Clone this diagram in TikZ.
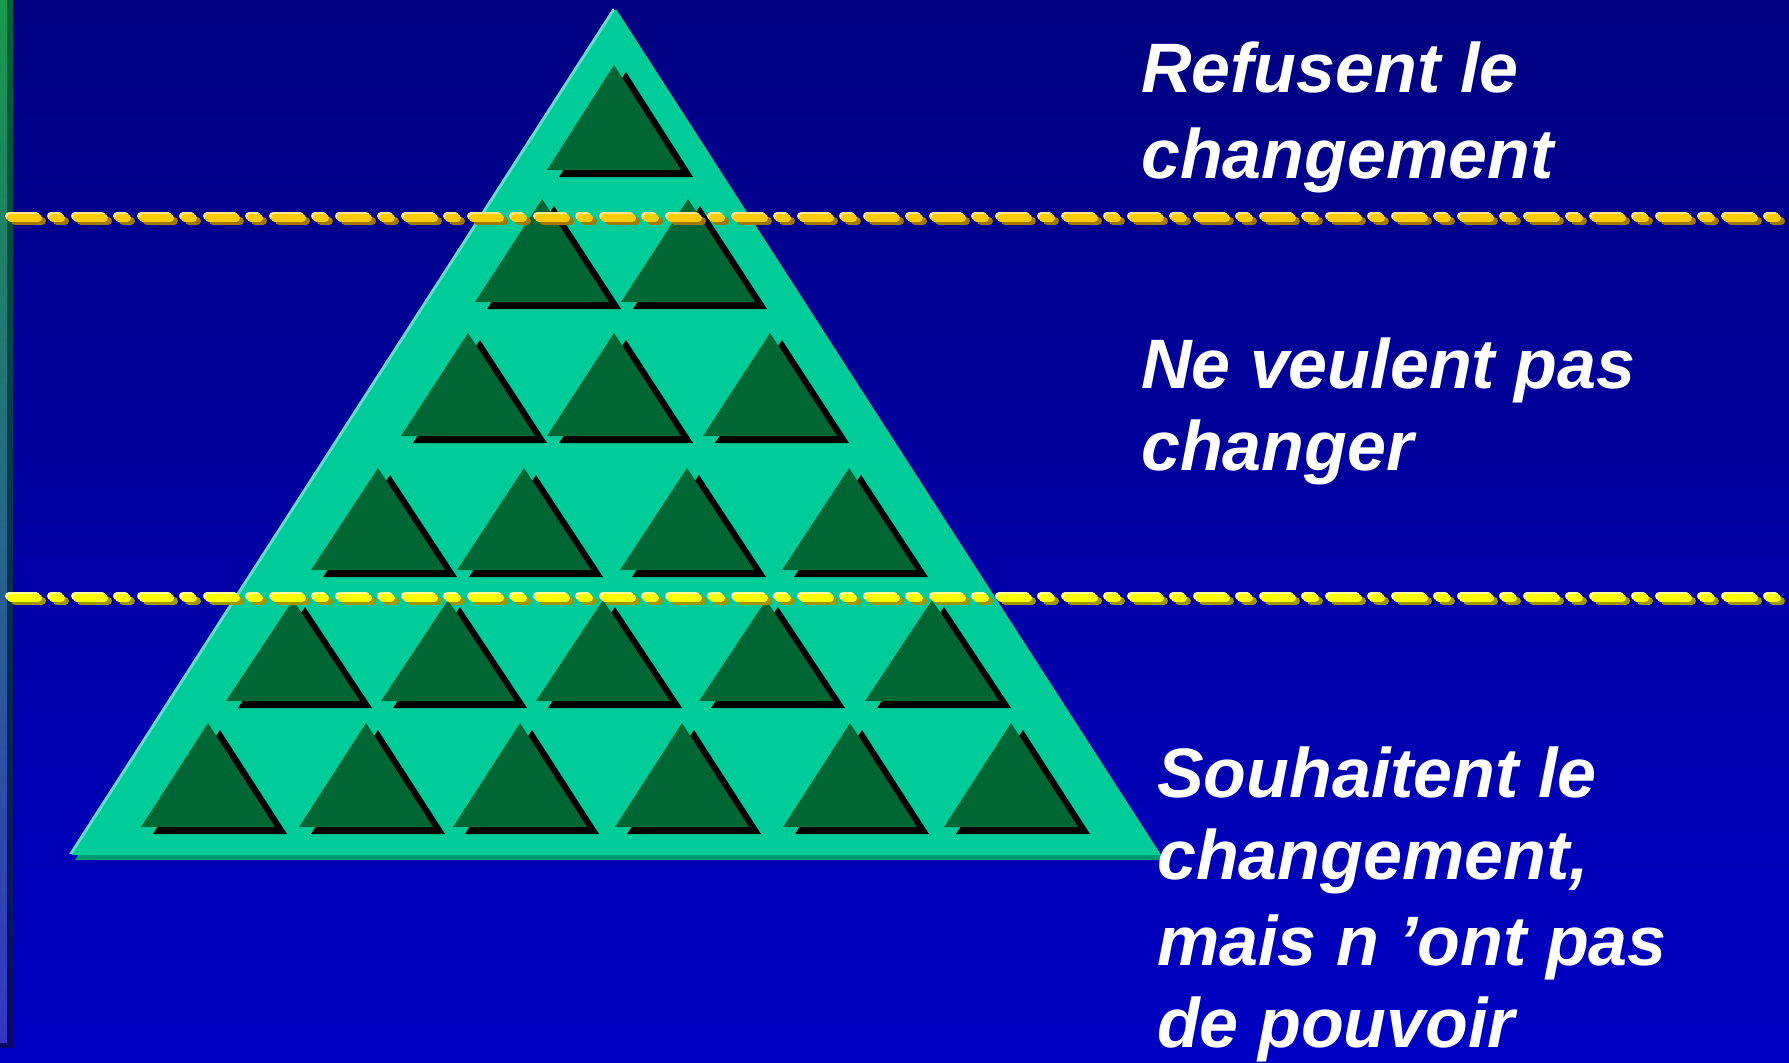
\documentclass[tikz,border=0pt]{standalone}
\usepackage{fontspec}
\setmainfont{Liberation Sans}
\definecolor{bgTop}{HTML}{000080}
\definecolor{bgBot}{HTML}{0000C4}
\definecolor{stripTop}{HTML}{18994A}
\definecolor{stripMid}{HTML}{2A6E96}
\definecolor{stripBot}{HTML}{3535C5}
\definecolor{edgeTop}{HTML}{006038}
\definecolor{edgeMid}{HTML}{0A3A6A}
\definecolor{edgeBot}{HTML}{0A0A66}
\definecolor{pyrMain}{HTML}{00CC99}
\definecolor{pyrShadow}{HTML}{009970}
\definecolor{pyrLight}{HTML}{66DDCC}
\definecolor{triGreen}{HTML}{006633}
\definecolor{goldMain}{HTML}{FFCC00}
\definecolor{goldShadow}{HTML}{A07800}
\definecolor{goldLight}{HTML}{FFE48A}
\definecolor{yelMain}{HTML}{FFFF00}
\definecolor{yelShadow}{HTML}{A09400}
\definecolor{yelLight}{HTML}{FFFF99}
\begin{document}
\begin{tikzpicture}[x=1pt,y=-1pt,
  lbl/.style={anchor=base west, inner sep=0pt, text=white,
    font=\fontsize{70}{84}\selectfont\bfseries\itshape},
  dashline/.style={line width=8pt, line cap=round,
    dash pattern=on 27pt off 15pt on 8pt off 16pt}]
\useasboundingbox (0,0) rectangle (1789,1063);
\clip (0,0) rectangle (1789,1063);
% background
\shade[top color=bgTop, bottom color=bgBot] (0,0) rectangle (1789,1063);
% left strip
\shade[top color=stripTop, middle color=stripMid, bottom color=stripBot] (0,0) rectangle (7,1043);
\shade[top color=edgeTop, middle color=edgeMid, bottom color=edgeBot] (7,0) rectangle (13,1043);
\fill[edgeBot] (0,1043) rectangle (13,1048);
% big pyramid
\fill[pyrShadow] (619,14) -- (75,860) -- (1164,860) -- cycle;
\fill[pyrLight] (613,8) -- (69,854) -- (1158,854) -- cycle;
\fill[pyrMain] (616,9) -- (72,855) -- (1161,855) -- cycle;
% small triangles
\foreach \x/\a/\b in {614/65/170,
  542/199/302, 688/199/302,
  468/333/436, 614/333/436, 770/333/436,
  378/468/570, 524/468/570, 687/468/570, 849/468/570,
  293/600/701, 448/600/701, 603/600/701, 766/600/701, 932/600/701,
  208/723/827, 366/723/827, 520/723/827, 682/723/827, 850/723/827, 1011/723/827} {
  \fill[black] (\x+12,\a+7) -- (\x-55,\b+7) -- (\x+79,\b+7) -- cycle;
  \fill[triGreen] (\x,\a) -- (\x-67,\b) -- (\x+67,\b) -- cycle;
}
% dashed lines
\coordinate (l1a) at (11,218);
\coordinate (l1b) at (1785,218);
\coordinate (l2a) at (11,598);
\coordinate (l2b) at (1785,598);
\draw[dashline, goldShadow] ([shift={(4,3)}]l1a) -- ([shift={(4,3)}]l1b);
\draw[dashline, goldLight] ([shift={(-2,-2)}]l1a) -- ([shift={(-2,-2)}]l1b);
\draw[dashline, goldMain] (l1a) -- (l1b);
\draw[dashline, yelShadow] ([shift={(4,3)}]l2a) -- ([shift={(4,3)}]l2b);
\draw[dashline, yelLight] ([shift={(-2,-2)}]l2a) -- ([shift={(-2,-2)}]l2b);
\draw[dashline, yelMain] (l2a) -- (l2b);
% labels
\node[lbl] (r1) at (1141,92) {Refusent le};
\node[lbl] (r2) at (1141,178) {changement};
\node[lbl] (n1) at (1141,388) {Ne veulent pas};
\node[lbl] (n2) at (1141,470) {changer};
\node[lbl] (s1) at (1157,797) {Souhaitent le};
\node[lbl] (s2) at (1157,879) {changement,};
\node[lbl] (s3) at (1157,965) {mais n ’ont pas};
\node[lbl] (s4) at (1157,1047) {de pouvoir};
\end{tikzpicture}
\end{document}
